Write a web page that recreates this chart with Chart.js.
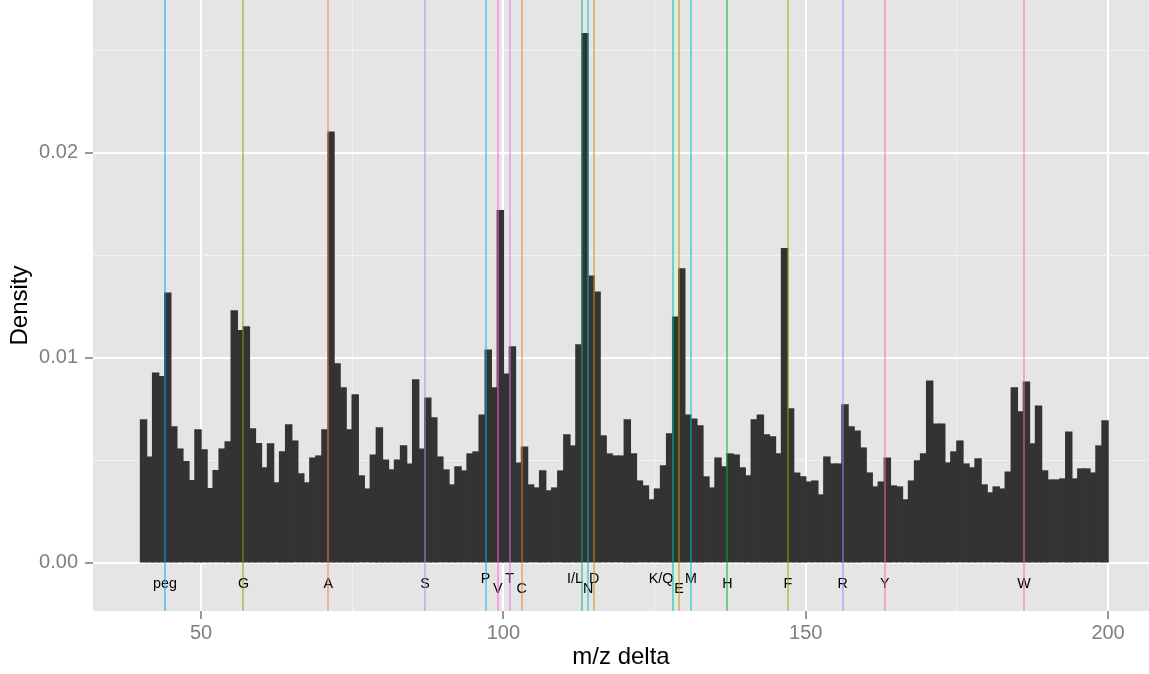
<!DOCTYPE html>
<html>
<head>
<meta charset="utf-8">
<script src="https://cdn.jsdelivr.net/npm/chart.js@4.4.1/dist/chart.umd.min.js"></script>
<style>
  html, body { margin: 0; padding: 0; background: #ffffff; }
  #wrap { width: 1149px; height: 674px; }
</style>
</head>
<body>
<div id="wrap"><canvas id="c" width="1149" height="674"></canvas></div>
<script>
// ---------------- data ----------------
const binStart = 40;     // first bin left edge (m/z)
const binWidth = 1;      // bin width
// density per bin, bins 40..199 (x 0.001)
const densityMilli = [
  6.96, 5.15, 9.25, 9.07, 13.15, 6.62, 5.54, 4.93, 4.00, 6.47,   // 40-49
  5.50, 3.61, 4.49, 5.54, 5.89, 12.28, 11.32, 11.50, 6.52, 5.80, // 50-59
  4.62, 5.79, 3.89, 5.40, 6.72, 5.93, 4.33, 3.89, 5.10, 5.20,   // 60-69
  6.47, 21.00, 9.69, 8.52, 6.47, 8.18, 4.23, 3.59, 5.25, 6.57,  // 70-79
  5.00, 4.52, 5.00, 5.69, 4.81, 8.91, 5.54, 8.03, 7.06, 5.15,   // 80-89
  4.52, 3.79, 4.67, 4.47, 5.30, 5.40, 7.20, 10.37, 8.52, 17.17, // 90-99
  9.20, 10.52, 4.86, 5.64, 3.79, 3.64, 4.47, 3.50, 3.64, 4.47,  // 100-109
  6.23, 5.69, 10.62, 25.80, 13.98, 13.20, 6.18, 5.30, 5.20, 5.20, // 110-119
  6.96, 5.30, 3.98, 3.74, 3.06, 3.59, 4.72, 6.28, 11.98, 14.33, // 120-129
  7.20, 7.00, 6.67, 4.18, 3.64, 5.10, 4.67, 5.30, 5.25, 4.62,   // 130-139
  4.23, 6.96, 7.20, 6.23, 6.13, 5.30, 15.32, 7.50, 4.37, 4.18,  // 140-149
  3.93, 3.98, 3.30, 5.15, 4.81, 4.81, 7.69, 6.62, 6.42, 5.59,   // 150-159
  4.37, 3.69, 3.93, 5.10, 3.74, 3.69, 3.06, 3.98, 4.96, 5.30,   // 160-169
  8.86, 6.76, 6.76, 4.86, 5.40, 5.93, 4.81, 4.62, 5.06, 3.79,   // 170-179
  3.40, 3.69, 3.59, 4.42, 8.52, 7.35, 8.81, 5.79, 7.64, 4.47,   // 180-189
  4.03, 4.03, 4.08, 6.37, 4.08, 4.57, 4.57, 4.37, 5.69, 6.91    // 190-199
];
// reference residue masses
const markerNames = ['peg', 'G', 'A', 'S', 'P', 'V', 'T', 'C', 'I/L', 'N', 'D', 'K/Q', 'E', 'M', 'H', 'F', 'R', 'Y', 'W'];
const markerMass  = [44.03, 57.02, 71.04, 87.03, 97.05, 99.07, 101.05, 103.01, 113.08, 114.04, 115.03, 128.09, 129.04, 131.04, 137.06, 147.07, 156.10, 163.06, 186.08];
const labelX      = [44.03, 57.02, 71.04, 87.03, 97.05, 99.07, 101.05, 103.01, 111.85, 114.04, 115.03, 126.08, 129.04, 131.04, 137.06, 147.07, 156.10, 163.06, 186.08];
const labelY      = [-0.00105, -0.00105, -0.00105, -0.00105, -0.0008, -0.0013, -0.0008, -0.0013, -0.0008, -0.0013, -0.0008, -0.0008, -0.0013, -0.0008, -0.00105, -0.00105, -0.00105, -0.00105, -0.00105];
const xTicks = [50, 75, 100, 125, 150, 175, 200];
const xLabelTicks = [50, 100, 150, 200];
const yTicks = [0, 0.005, 0.01, 0.015, 0.02, 0.025];
const yLabelTicks = [0, 0.01, 0.02];

// ---------------- helpers ----------------
const FONT = "'Liberation Sans', Arial, Helvetica, sans-serif";
function hclColor(h, c, l, alpha) {
  const hr = h * Math.PI / 180;
  const U = c * Math.cos(hr), V = c * Math.sin(hr);
  const Xn = 95.047, Yn = 100, Zn = 108.883;
  const den = Xn + 15 * Yn + 3 * Zn;
  const un = 4 * Xn / den, vn = 9 * Yn / den;
  const Y = Yn * Math.pow((l + 16) / 116, 3);
  const u = U / (13 * l) + un, v = V / (13 * l) + vn;
  const X = Y * 9 * u / (4 * v);
  const Z = Y * (12 - 3 * u - 20 * v) / (4 * v);
  const x = X / 100, y = Y / 100, z = Z / 100;
  let r = 3.2404542 * x - 1.5371385 * y - 0.4985314 * z;
  let g = -0.9692660 * x + 1.8760108 * y + 0.0415560 * z;
  let b = 0.0556434 * x - 0.2040259 * y + 1.0572252 * z;
  const gam = t => { t = t <= 0.0031308 ? 12.92 * t : 1.055 * Math.pow(t, 1 / 2.4) - 0.055; return Math.round(Math.max(0, Math.min(1, t)) * 255); };
  return `rgba(${gam(r)},${gam(g)},${gam(b)},${alpha})`;
}
const sortedLevels = [...markerNames].sort((a, b) => a.toLowerCase().localeCompare(b.toLowerCase()));
const markerColor = markerNames.map(n => hclColor(15 + 360 / markerNames.length * sortedLevels.indexOf(n), 100, 65, 0.5));
const isIn = (arr, v) => arr.some(t => Math.abs(t - v) < 1e-9);

const barData = densityMilli.map((d, i) => ({ x: binStart + binWidth * (i + 0.5), y: d / 1000 }));

// ---------------- plugins ----------------
const panelBg = {
  id: 'panelBg',
  beforeDraw(chart) {
    const { ctx, chartArea: a } = chart;
    ctx.save();
    ctx.fillStyle = '#E5E5E5';
    ctx.fillRect(a.left, a.top, a.right - a.left, a.bottom - a.top);
    ctx.restore();
  }
};
const markers = {
  id: 'markers',
  afterDatasetsDraw(chart) {
    const { ctx, chartArea: a, scales: { x, y } } = chart;
    ctx.save();
    ctx.beginPath();
    ctx.rect(a.left, a.top, a.right - a.left, a.bottom - a.top);
    ctx.clip();
    ctx.fillStyle = '#000000';
    ctx.font = `14.3px ${FONT}`;
    ctx.textAlign = 'center';
    ctx.textBaseline = 'middle';
    markerNames.forEach((n, i) => {
      ctx.fillText(n, x.getPixelForValue(labelX[i]), y.getPixelForValue(labelY[i]));
    });
    ctx.lineWidth = 2;
    markerMass.forEach((m, i) => {
      const px = Math.round(x.getPixelForValue(m));
      ctx.strokeStyle = markerColor[i];
      ctx.beginPath();
      ctx.moveTo(px, a.top);
      ctx.lineTo(px, a.bottom);
      ctx.stroke();
    });
    ctx.restore();
  }
};

// ---------------- chart ----------------
new Chart(document.getElementById('c'), {
  type: 'bar',
  data: {
    datasets: [{
      data: barData,
      backgroundColor: '#333333',
      borderWidth: 0,
      inflateAmount: 0.7,
      barPercentage: 1,
      categoryPercentage: 1
    }]
  },
  options: {
    responsive: false,
    animation: false,
    layout: { padding: 0 },
    plugins: { legend: { display: false }, tooltip: { enabled: false } },
    scales: {
      x: {
        type: 'linear',
        min: 32.14,
        max: 206.77,
        offset: false,
        afterBuildTicks: s => { s.ticks = xTicks.map(v => ({ value: v })); },
        afterFit: s => { s.height = 63; s.paddingLeft = 0; s.paddingRight = 0; },
        ticks: {
          autoSkip: false, maxRotation: 0,
          callback: v => isIn(xLabelTicks, v) ? String(v) : '',
          color: '#7F7F7F',
          font: { family: FONT, size: 20 },
          padding: 2.5
        },
        grid: {
          offset: false,
          color: c => isIn(xLabelTicks, c.tick.value) ? '#FFFFFF' : '#F2F2F2',
          lineWidth: c => isIn(xLabelTicks, c.tick.value) ? 2 : 1,
          tickColor: c => isIn(xLabelTicks, c.tick.value) ? '#7F7F7F' : 'rgba(0,0,0,0)',
          tickWidth: c => isIn(xLabelTicks, c.tick.value) ? 1.6 : 0,
          tickLength: 8
        },
        border: { display: false },
        title: {
          display: true, text: 'm/z delta', color: '#000000',
          font: { family: FONT, size: 24 },
          padding: { top: 0, bottom: 1.9 }
        }
      },
      y: {
        type: 'linear',
        min: -0.002356,
        max: 0.02745,
        afterBuildTicks: s => { s.ticks = yTicks.map(v => ({ value: v })); },
        afterFit: s => { s.width = 93; s.paddingTop = 0; s.paddingBottom = 0; },
        ticks: {
          autoSkip: false,
          callback: v => isIn(yLabelTicks, v) ? v.toFixed(2) : '',
          color: '#7F7F7F',
          font: { family: FONT, size: 20 },
          padding: 7
        },
        grid: {
          color: c => isIn(yLabelTicks, c.tick.value) ? '#FFFFFF' : '#F2F2F2',
          lineWidth: c => isIn(yLabelTicks, c.tick.value) ? 2 : 1,
          tickColor: c => isIn(yLabelTicks, c.tick.value) ? '#7F7F7F' : 'rgba(0,0,0,0)',
          tickWidth: c => isIn(yLabelTicks, c.tick.value) ? 1.6 : 0,
          tickLength: 8
        },
        border: { display: false },
        title: {
          display: true, text: 'Density', color: '#000000',
          font: { family: FONT, size: 24 },
          padding: { top: 6.3, bottom: 0 }
        }
      }
    }
  },
  plugins: [panelBg, markers]
});
</script>
</body>
</html>
